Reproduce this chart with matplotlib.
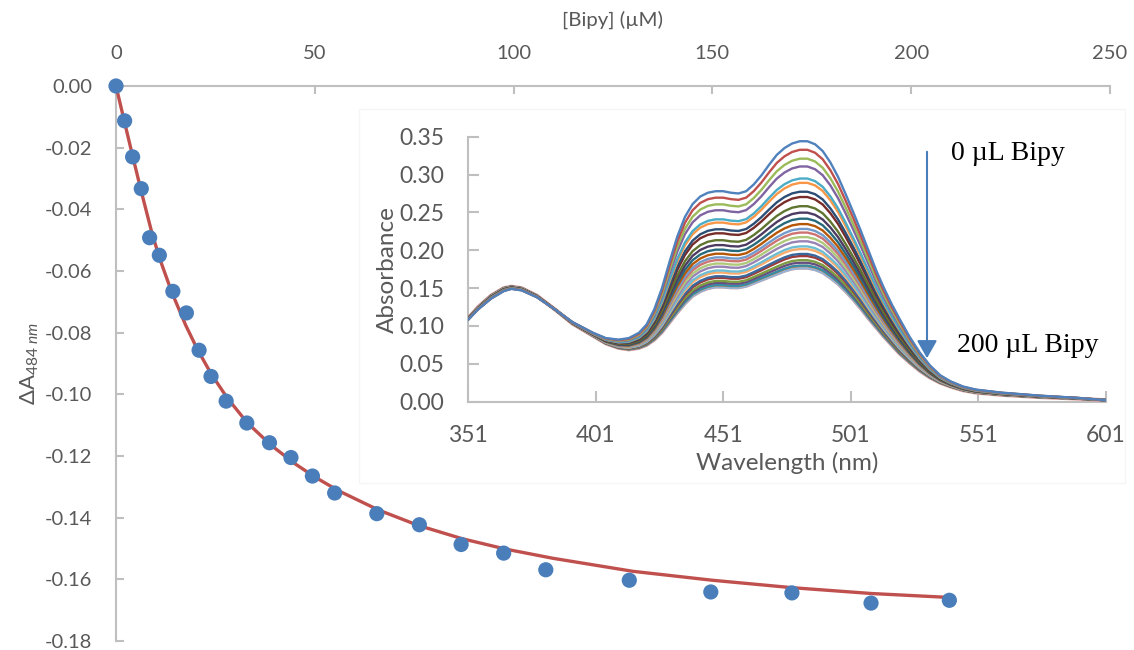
import matplotlib
matplotlib.use("Agg")
import matplotlib.pyplot as plt
from matplotlib.patches import Rectangle, FancyArrowPatch
import numpy as np

W, H = 1134, 650
DPI = 100

# ---------------- main titration data ----------------
bipy_uM = [0, 2.17, 4.18, 6.36, 8.46, 10.9, 14.3, 17.7, 20.9, 23.9, 27.7, 32.9,
           38.6, 44.0, 49.4, 55.0, 65.6, 76.3, 86.8, 97.5, 108.1, 129.1, 149.6,
           170.0, 189.9, 209.6]
delta_A = [0.0, -0.0113, -0.0230, -0.0333, -0.0492, -0.0549, -0.0666, -0.0736,
           -0.0857, -0.0942, -0.1022, -0.1093, -0.1157, -0.1205, -0.1265, -0.1320,
           -0.1387, -0.1423, -0.1487, -0.1515, -0.1569, -0.1603, -0.1641, -0.1644,
           -0.1677, -0.1668]

# fitted curve
fit_x = [0, 2.2, 4.2, 6.4, 9.0, 11, 14, 17.5, 20.5, 24, 28, 33, 39, 45, 50, 56,
         66, 76, 87, 98, 110, 130, 150, 170, 190, 210]
fit_y = [0.0, -0.0120, -0.0228, -0.0344, -0.0475, -0.0560, -0.0668, -0.0775,
         -0.0855, -0.0935, -0.1012, -0.1092, -0.1165, -0.1225, -0.1268, -0.1313,
         -0.1375, -0.1425, -0.1468, -0.1502, -0.1532, -0.1574, -0.1603, -0.1627,
         -0.1646, -0.1659]

main_xticks = [0, 50, 100, 150, 200, 250]
main_yticks = [0.00, -0.02, -0.04, -0.06, -0.08, -0.10, -0.12, -0.14, -0.16, -0.18]

# ---------------- inset spectra ----------------
wavelength = [351, 355, 360, 365, 368, 372, 378, 385, 392, 400, 405, 410, 414, 418,
              421, 424, 427, 430, 433, 436, 439, 442, 445, 448, 451, 454, 457, 460,
              463, 466, 469, 472, 475, 478, 481, 484, 487, 490, 493, 496, 499, 502,
              505, 508, 511, 514, 517, 520, 524, 528, 532, 536, 540, 545, 550, 560,
              575, 590, 601]
abs_0uL = [0.108, 0.122, 0.136, 0.146, 0.149, 0.147, 0.138, 0.122, 0.105, 0.091,
           0.084, 0.082, 0.084, 0.091, 0.102, 0.122, 0.150, 0.185, 0.218, 0.244,
           0.261, 0.271, 0.276, 0.278, 0.278, 0.276, 0.275, 0.278, 0.287, 0.299,
           0.313, 0.326, 0.335, 0.341, 0.344, 0.344, 0.340, 0.331, 0.316, 0.297,
           0.274, 0.250, 0.225, 0.199, 0.173, 0.150, 0.129, 0.110, 0.086, 0.065,
           0.048, 0.035, 0.027, 0.020, 0.016, 0.012, 0.008, 0.005, 0.002]
abs_200uL = [0.110, 0.125, 0.140, 0.150, 0.152, 0.150, 0.140, 0.122, 0.103, 0.087,
             0.077, 0.071, 0.069, 0.071, 0.075, 0.082, 0.092, 0.105, 0.118, 0.130,
             0.140, 0.146, 0.150, 0.152, 0.152, 0.151, 0.151, 0.153, 0.157, 0.161,
             0.165, 0.169, 0.173, 0.176, 0.177, 0.177, 0.175, 0.171, 0.164, 0.156,
             0.146, 0.135, 0.123, 0.110, 0.098, 0.086, 0.075, 0.064, 0.052, 0.041,
             0.032, 0.025, 0.020, 0.015, 0.012, 0.009, 0.006, 0.004, 0.002]
inset_xticks = [351, 401, 451, 501, 551, 601]
inset_yticks = [0.00, 0.05, 0.10, 0.15, 0.20, 0.25, 0.30, 0.35]

excel_colors = ["#4F81BD", "#C0504D", "#9BBB59", "#8064A2", "#4BACC6", "#F79646",
                "#2C4D75", "#772C2A", "#5F7530", "#4D3B62", "#276A7C", "#B65708",
                "#729ACA", "#CD7371", "#AFC97A", "#9983B5", "#6FBDD3", "#F9AB6B",
                "#3A679C", "#9F3B38", "#7E9C40", "#664F83", "#358EA6", "#E46C0A",
                "#95B3D7", "#D99694"]

GRAY_TXT = "#595959"
GRAY_AX = "#BFBFBF"
FONT = ["Lato", "DejaVu Sans"]

plt.rcParams["font.family"] = FONT
plt.rcParams["mathtext.fontset"] = "custom"
plt.rcParams["mathtext.rm"] = "Lato"
plt.rcParams["mathtext.it"] = "Lato:italic"

fig = plt.figure(figsize=(W / DPI, H / DPI), dpi=DPI)


def fx(px):
    return px / W


def fy(py):
    return 1 - py / H


# ---------------- main axes ----------------
L, R, T, B = 116, 1110, 86, 641
ax = fig.add_axes([fx(L), fy(B), (R - L) / W, (B - T) / H])
ax.set_xlim(0, 250)
ax.set_ylim(-0.18, 0.0)
for s in ["bottom", "right"]:
    ax.spines[s].set_visible(False)
for s in ["left", "top"]:
    ax.spines[s].set_color(GRAY_AX)
    ax.spines[s].set_linewidth(1.5)
ax.xaxis.tick_top()
ax.xaxis.set_label_position("top")
ax.set_xticks(main_xticks)
ax.set_yticks(main_yticks)
ax.set_yticklabels([f"{v:.2f}" for v in main_yticks])
ax.tick_params(axis="both", direction="in", length=6, width=1.5, color=GRAY_AX,
               labelcolor=GRAY_TXT, labelsize=14.5, pad=17)
ax.set_xlabel("[Bipy] (µM)", color=GRAY_TXT, fontsize=14.7, labelpad=14)
ax.set_ylabel(r"$\Delta$A$_{\mathit{484\ nm}}$", color=GRAY_TXT, fontsize=16, labelpad=6)
ax.yaxis.set_label_coords(-0.075, 0.5)

ax.plot(fit_x, fit_y, color="#C0504D", lw=2.4, zorder=3, clip_on=False)
ax.scatter(bipy_uM, delta_A, s=120, color="#4A7EBB", edgecolors="none", zorder=4,
           clip_on=False)

# faint inset chart-area border
fig.patches.append(Rectangle((fx(359), fy(483)), (1125 - 359) / W, (483 - 109) / H,
                             transform=fig.transFigure, facecolor="white",
                             edgecolor="#F5F5F5", lw=1, zorder=5))

# ---------------- inset ----------------
iL, iR, iT, iB = 468, 1106, 136.7, 401.7
ax2 = fig.add_axes([fx(iL), fy(iB), (iR - iL) / W, (iB - iT) / H], zorder=6)
ax2.set_facecolor("white")
ax2.set_xlim(351, 601)
ax2.set_ylim(0, 0.35)
for s in ["top", "right"]:
    ax2.spines[s].set_visible(False)
for s in ["left", "bottom"]:
    ax2.spines[s].set_color(GRAY_AX)
    ax2.spines[s].set_linewidth(1.5)
ax2.set_xticks(inset_xticks)
ax2.set_yticks(inset_yticks)
ax2.set_yticklabels([f"{v:.2f}" for v in inset_yticks])
ax2.tick_params(axis="both", direction="in", length=8, width=1.5, color=GRAY_AX,
                labelcolor=GRAY_TXT, labelsize=16.5, pad=17)
ax2.set_xlabel("Wavelength (nm)", color=GRAY_TXT, fontsize=17.5, labelpad=4)
ax2.set_ylabel("Absorbance", color=GRAY_TXT, fontsize=17.5, labelpad=1)

top = np.array(abs_0uL)
bot = np.array(abs_200uL)
frac = np.array(delta_A) / delta_A[-1]
n = len(frac)
for i in range(n - 1, -1, -1):
    spec = top + frac[i] * (bot - top)
    lw = 2.8 if i == n - 1 else 1.7
    ax2.plot(wavelength, spec, color=excel_colors[i % len(excel_colors)], lw=lw,
             solid_capstyle="round", solid_joinstyle="round",
             zorder=3 + (n - i) * 0.01)

# arrow and annotations
fig.add_artist(FancyArrowPatch(
    (fx(927), fy(149)), (fx(927), fy(361)), transform=fig.transFigure,
    arrowstyle="-|>,head_length=0.6,head_width=0.34", mutation_scale=18,
    color="#4A7EBB", lw=1.5, zorder=10))
fig.text(fx(951), fy(153), "0 µL Bipy", family=["Liberation Serif", "DejaVu Serif"],
         fontsize=20, color="black", va="center", ha="left", zorder=10)
fig.text(fx(957), fy(345), "200 µL Bipy", family=["Liberation Serif", "DejaVu Serif"],
         fontsize=20, color="black", va="center", ha="left", zorder=10)

fig.savefig("out.png", dpi=DPI, facecolor="white")
